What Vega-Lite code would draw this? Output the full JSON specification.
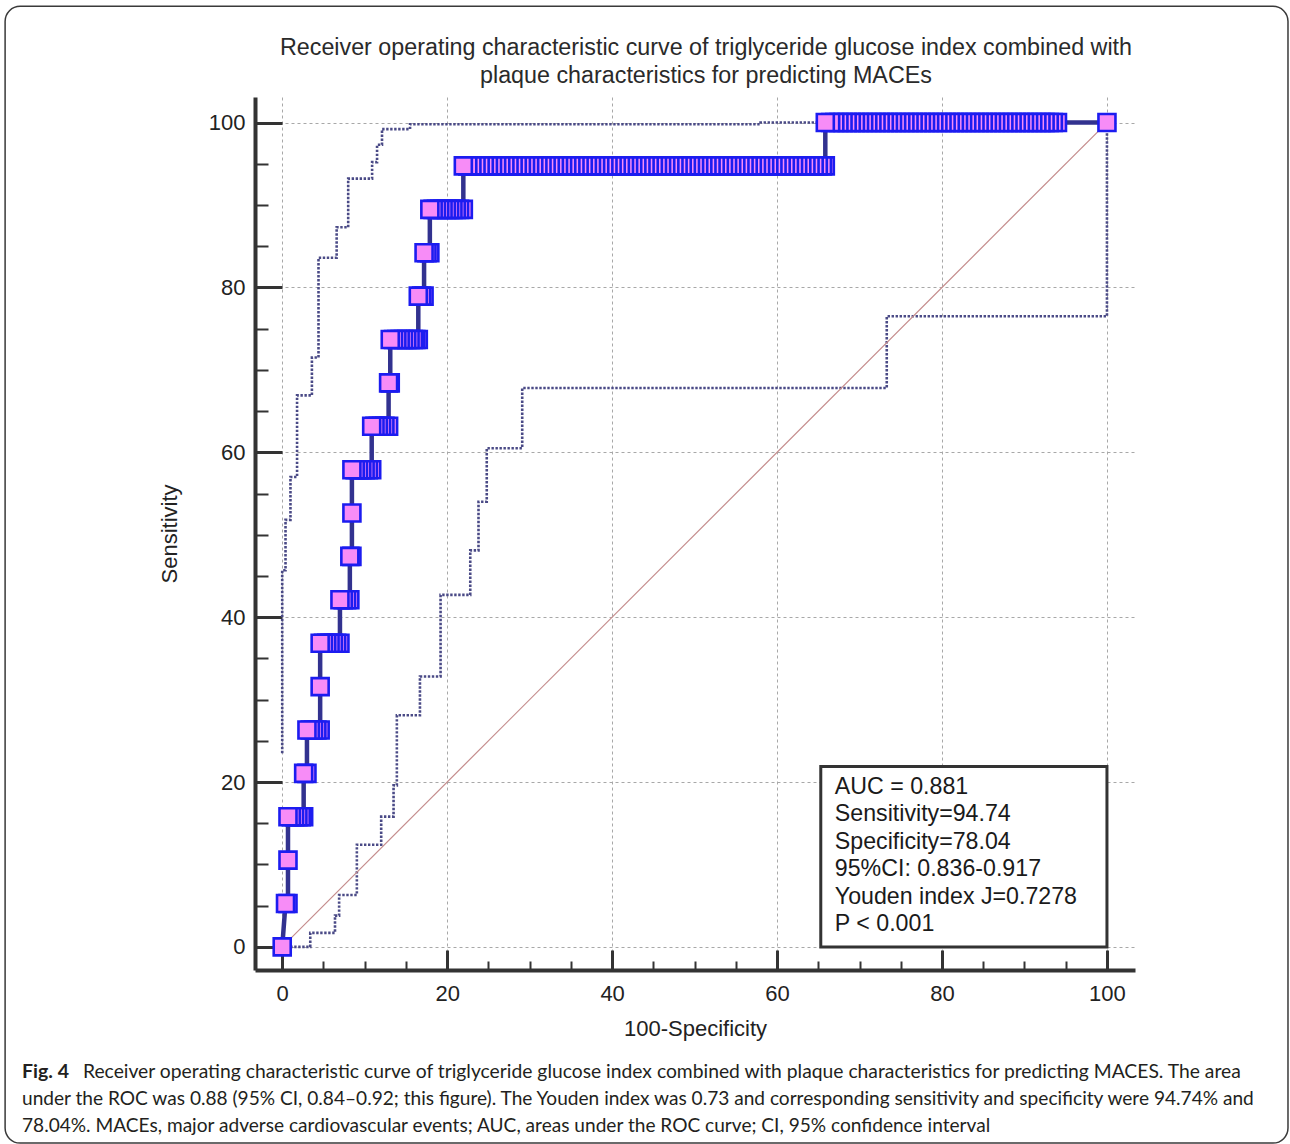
{
 "$schema": "https://vega.github.io/schema/vega-lite/v6.json",
 "width": 880,
 "height": 873,
 "autosize": "none",
 "padding": {"left": 255, "top": 97, "right": 155, "bottom": 174},
 "background": "white",
 "config": {"view": {"stroke": null}, "font": "Liberation Sans"},
 "datasets": {
  "roc": [
   {"x":0,"y":0},
   {"x":0.4,"y":5.26},{"x":0.7,"y":5.26},
   {"x":0.7,"y":10.53},
   {"x":0.7,"y":15.79},{"x":1.1,"y":15.79},{"x":1.5,"y":15.79},{"x":1.9,"y":15.79},{"x":2.3,"y":15.79},{"x":2.6,"y":15.79},
   {"x":2.6,"y":21.05},{"x":3.0,"y":21.05},
   {"x":3.0,"y":26.32},{"x":3.4,"y":26.32},{"x":3.8,"y":26.32},{"x":4.2,"y":26.32},{"x":4.6,"y":26.32},
   {"x":4.6,"y":31.58},
   {"x":4.6,"y":36.84},{"x":5.0,"y":36.84},{"x":5.4,"y":36.84},{"x":5.8,"y":36.84},{"x":6.2,"y":36.84},{"x":6.6,"y":36.84},{"x":7.0,"y":36.84},
   {"x":7.0,"y":42.11},{"x":7.4,"y":42.11},{"x":7.8,"y":42.11},{"x":8.2,"y":42.11},
   {"x":8.2,"y":47.37},{"x":8.45,"y":47.37},
   {"x":8.45,"y":52.63},
   {"x":8.45,"y":57.89},{"x":8.85,"y":57.89},{"x":9.25,"y":57.89},{"x":9.65,"y":57.89},{"x":10.05,"y":57.89},{"x":10.45,"y":57.89},{"x":10.85,"y":57.89},
   {"x":10.85,"y":63.16},{"x":11.25,"y":63.16},{"x":11.65,"y":63.16},{"x":12.05,"y":63.16},{"x":12.45,"y":63.16},{"x":12.9,"y":63.16},
   {"x":12.9,"y":68.42},{"x":13.1,"y":68.42},
   {"x":13.1,"y":73.68},{"x":13.5,"y":73.68},{"x":13.9,"y":73.68},{"x":14.3,"y":73.68},{"x":14.7,"y":73.68},{"x":15.1,"y":73.68},{"x":15.5,"y":73.68},{"x":15.9,"y":73.68},{"x":16.2,"y":73.68},{"x":16.5,"y":73.68},
   {"x":16.5,"y":78.95},{"x":16.9,"y":78.95},{"x":17.2,"y":78.95},
   {"x":17.2,"y":84.21},{"x":17.55,"y":84.21},{"x":17.9,"y":84.21},
   {"x":17.9,"y":89.47},{"x":18.3,"y":89.47},{"x":18.7,"y":89.47},{"x":19.1,"y":89.47},{"x":19.5,"y":89.47},{"x":19.9,"y":89.47},{"x":20.3,"y":89.47},{"x":20.7,"y":89.47},{"x":21.1,"y":89.47},{"x":21.5,"y":89.47},{"x":21.96,"y":89.47},
   {"x":21.96,"y":94.74},{"x":22.5,"y":94.74},{"x":23,"y":94.74},{"x":23.5,"y":94.74},{"x":24,"y":94.74},{"x":24.5,"y":94.74},{"x":25,"y":94.74},{"x":25.5,"y":94.74},{"x":26,"y":94.74},{"x":26.5,"y":94.74},
   {"x":27,"y":94.74},{"x":27.5,"y":94.74},{"x":28,"y":94.74},{"x":28.5,"y":94.74},{"x":29,"y":94.74},{"x":29.5,"y":94.74},{"x":30,"y":94.74},{"x":30.5,"y":94.74},{"x":31,"y":94.74},{"x":31.5,"y":94.74},
   {"x":32,"y":94.74},{"x":32.5,"y":94.74},{"x":33,"y":94.74},{"x":33.5,"y":94.74},{"x":34,"y":94.74},{"x":34.5,"y":94.74},{"x":35,"y":94.74},{"x":35.5,"y":94.74},{"x":36,"y":94.74},{"x":36.5,"y":94.74},
   {"x":37,"y":94.74},{"x":37.5,"y":94.74},{"x":38,"y":94.74},{"x":38.5,"y":94.74},{"x":39,"y":94.74},{"x":39.5,"y":94.74},{"x":40,"y":94.74},{"x":40.5,"y":94.74},{"x":41,"y":94.74},{"x":41.5,"y":94.74},
   {"x":42,"y":94.74},{"x":42.5,"y":94.74},{"x":43,"y":94.74},{"x":43.5,"y":94.74},{"x":44,"y":94.74},{"x":44.5,"y":94.74},{"x":45,"y":94.74},{"x":45.5,"y":94.74},{"x":46,"y":94.74},{"x":46.5,"y":94.74},
   {"x":47,"y":94.74},{"x":47.5,"y":94.74},{"x":48,"y":94.74},{"x":48.5,"y":94.74},{"x":49,"y":94.74},{"x":49.5,"y":94.74},{"x":50,"y":94.74},{"x":50.5,"y":94.74},{"x":51,"y":94.74},{"x":51.5,"y":94.74},
   {"x":52,"y":94.74},{"x":52.5,"y":94.74},{"x":53,"y":94.74},{"x":53.5,"y":94.74},{"x":54,"y":94.74},{"x":54.5,"y":94.74},{"x":55,"y":94.74},{"x":55.5,"y":94.74},{"x":56,"y":94.74},{"x":56.5,"y":94.74},
   {"x":57,"y":94.74},{"x":57.5,"y":94.74},{"x":58,"y":94.74},{"x":58.5,"y":94.74},{"x":59,"y":94.74},{"x":59.5,"y":94.74},{"x":60,"y":94.74},{"x":60.5,"y":94.74},{"x":61,"y":94.74},{"x":61.5,"y":94.74},
   {"x":62,"y":94.74},{"x":62.5,"y":94.74},{"x":63,"y":94.74},{"x":63.5,"y":94.74},{"x":64,"y":94.74},{"x":64.5,"y":94.74},{"x":65,"y":94.74},{"x":65.5,"y":94.74},{"x":65.85,"y":94.74},
   {"x":65.85,"y":100},{"x":66.5,"y":100},{"x":67,"y":100},{"x":67.5,"y":100},{"x":68,"y":100},{"x":68.5,"y":100},{"x":69,"y":100},{"x":69.5,"y":100},{"x":70,"y":100},{"x":70.5,"y":100},
   {"x":71,"y":100},{"x":71.5,"y":100},{"x":72,"y":100},{"x":72.5,"y":100},{"x":73,"y":100},{"x":73.5,"y":100},{"x":74,"y":100},{"x":74.5,"y":100},{"x":75,"y":100},{"x":75.5,"y":100},
   {"x":76,"y":100},{"x":76.5,"y":100},{"x":77,"y":100},{"x":77.5,"y":100},{"x":78,"y":100},{"x":78.5,"y":100},{"x":79,"y":100},{"x":79.5,"y":100},{"x":80,"y":100},{"x":80.5,"y":100},
   {"x":81,"y":100},{"x":81.5,"y":100},{"x":82,"y":100},{"x":82.5,"y":100},{"x":83,"y":100},{"x":83.5,"y":100},{"x":84,"y":100},{"x":84.5,"y":100},{"x":85,"y":100},{"x":85.5,"y":100},
   {"x":86,"y":100},{"x":86.5,"y":100},{"x":87,"y":100},{"x":87.5,"y":100},{"x":88,"y":100},{"x":88.5,"y":100},{"x":89,"y":100},{"x":89.5,"y":100},{"x":90,"y":100},{"x":90.5,"y":100},
   {"x":91,"y":100},{"x":91.5,"y":100},{"x":92,"y":100},{"x":92.5,"y":100},{"x":93,"y":100},{"x":93.5,"y":100},{"x":94,"y":100},
   {"x":100,"y":100}
  ],
  "ci": [
   {"band":"lower","x":0,"y":0},{"band":"lower","x":3.4,"y":0},{"band":"lower","x":3.4,"y":1.7},{"band":"lower","x":6.4,"y":1.7},{"band":"lower","x":6.4,"y":3.8},{"band":"lower","x":6.9,"y":3.8},{"band":"lower","x":6.9,"y":6.3},{"band":"lower","x":9.05,"y":6.3},{"band":"lower","x":9.05,"y":12.4},{"band":"lower","x":12.0,"y":12.4},{"band":"lower","x":12.0,"y":15.8},{"band":"lower","x":13.5,"y":15.8},{"band":"lower","x":13.5,"y":19.6},{"band":"lower","x":13.9,"y":19.6},{"band":"lower","x":13.9,"y":28.1},{"band":"lower","x":16.7,"y":28.1},{"band":"lower","x":16.7,"y":32.8},{"band":"lower","x":19.2,"y":32.8},{"band":"lower","x":19.2,"y":42.7},{"band":"lower","x":22.8,"y":42.7},{"band":"lower","x":22.8,"y":48.1},{"band":"lower","x":23.8,"y":48.1},{"band":"lower","x":23.8,"y":54.0},{"band":"lower","x":24.8,"y":54.0},{"band":"lower","x":24.8,"y":60.5},{"band":"lower","x":29.1,"y":60.5},{"band":"lower","x":29.1,"y":67.8},{"band":"lower","x":73.3,"y":67.8},{"band":"lower","x":73.3,"y":76.5},{"band":"lower","x":100,"y":76.5},{"band":"lower","x":100,"y":100},
   {"band":"upper","x":0,"y":23.5},{"band":"upper","x":0,"y":45.7},{"band":"upper","x":0.4,"y":45.7},{"band":"upper","x":0.4,"y":51.8},{"band":"upper","x":1.0,"y":51.8},{"band":"upper","x":1.0,"y":57.0},{"band":"upper","x":1.8,"y":57.0},{"band":"upper","x":1.8,"y":66.9},{"band":"upper","x":3.6,"y":66.9},{"band":"upper","x":3.6,"y":71.5},{"band":"upper","x":4.4,"y":71.5},{"band":"upper","x":4.4,"y":83.6},{"band":"upper","x":6.6,"y":83.6},{"band":"upper","x":6.6,"y":87.3},{"band":"upper","x":8.0,"y":87.3},{"band":"upper","x":8.0,"y":93.2},{"band":"upper","x":10.9,"y":93.2},{"band":"upper","x":10.9,"y":95.2},{"band":"upper","x":11.5,"y":95.2},{"band":"upper","x":11.5,"y":97.3},{"band":"upper","x":12.1,"y":97.3},{"band":"upper","x":12.1,"y":99.2},{"band":"upper","x":15.5,"y":99.2},{"band":"upper","x":15.5,"y":99.8},{"band":"upper","x":58,"y":99.8},{"band":"upper","x":58,"y":100},{"band":"upper","x":100,"y":100}
  ]
 },
 "layer": [
  {
   "data": {"name": "ci"},
   "mark": {"type": "line", "color": "#4a4a86", "strokeWidth": 2.6, "strokeDash": [2.4, 1.6]},
   "encoding": {
    "x": {
     "field": "x", "type": "quantitative", "title": "100-Specificity",
     "scale": {"domain": [-3.3, 103.4], "nice": false, "zero": false},
     "axis": {
      "title": "100-Specificity",
      "values": [0,5,10,15,20,25,30,35,40,45,50,55,60,65,70,75,80,85,90,95,100],
      "grid": true, "gridColor": "#a8a8a8", "gridDash": [3,3], "gridWidth": 1,
      "gridOpacity": {"condition": {"test": "datum.value % 20 === 0", "value": 1}, "value": 0},
      "domainColor": "#333333", "domainWidth": 4,
      "tickColor": "#333333",
      "tickSize": {"condition": {"test": "datum.value % 20 === 0", "value": -20}, "value": -9},
      "tickWidth": {"condition": {"test": "datum.value % 20 === 0", "value": 3}, "value": 2},
      "labelExpr": "datum.value % 20 === 0 ? datum.label : ''",
      "labelFont": "Liberation Sans", "labelFontSize": 22, "labelColor": "#222222",
      "labelPadding": 33, "labelOverlap": false, "labelFlush": false,
      "titleFont": "Liberation Sans", "titleFontSize": 22, "titleFontWeight": "normal", "titleColor": "#222222",
      "titlePadding": 3
     }
    },
    "y": {
     "field": "y", "type": "quantitative", "title": "Sensitivity",
     "scale": {"domain": [-2.8, 103.1], "nice": false, "zero": false},
     "axis": {
      "title": "Sensitivity",
      "values": [0,5,10,15,20,25,30,35,40,45,50,55,60,65,70,75,80,85,90,95,100],
      "grid": true, "gridColor": "#a8a8a8", "gridDash": [3,3], "gridWidth": 1,
      "gridOpacity": {"condition": {"test": "datum.value % 20 === 0", "value": 1}, "value": 0},
      "domainColor": "#333333", "domainWidth": 4,
      "tickColor": "#333333",
      "tickSize": {"condition": {"test": "datum.value % 20 === 0", "value": -27}, "value": -13},
      "tickWidth": {"condition": {"test": "datum.value % 20 === 0", "value": 3}, "value": 2},
      "labelExpr": "datum.value % 20 === 0 ? datum.label : ''",
      "labelFont": "Liberation Sans", "labelFontSize": 22, "labelColor": "#222222",
      "labelPadding": 37, "labelOverlap": false, "labelFlush": false,
      "titleFont": "Liberation Sans", "titleFontSize": 22, "titleFontWeight": "normal", "titleColor": "#222222",
      "titlePadding": 27
     }
    },
    "detail": {"field": "band"},
    "order": [{"field": "x"}, {"field": "y"}]
   }
  },
  {
   "data": {"values": [{"item": "frame"}]},
   "mark": {"type": "rect", "fill": "white", "fillOpacity": 0, "stroke": "#3a3a3a", "strokeWidth": 1.5, "cornerRadius": 15},
   "encoding": {
    "x": {"datum": -33.6, "type": "quantitative"},
    "x2": {"datum": 121.95},
    "y": {"datum": 114.1, "type": "quantitative"},
    "y2": {"datum": -23.8}
   }
  },
  {
   "data": {"values": [{"item": "reference"}]},
   "mark": {"type": "rule", "color": "#c48c8c", "strokeWidth": 1.2},
   "encoding": {
    "x": {"datum": 0, "type": "quantitative"},
    "y": {"datum": 0, "type": "quantitative"},
    "x2": {"datum": 100},
    "y2": {"datum": 100}
   }
  },
  {
   "data": {"name": "roc"},
   "mark": {"type": "line", "color": "#32328f", "strokeWidth": 4.5},
   "encoding": {
    "x": {"field": "x", "type": "quantitative", "title": "100-Specificity"},
    "y": {"field": "y", "type": "quantitative", "title": "Sensitivity"},
    "order": [{"field": "x"}, {"field": "y"}]
   }
  },
  {
   "data": {"name": "roc"},
   "mark": {"type": "point", "shape": "square", "size": 289, "filled": true, "fill": "#f78cf7", "stroke": "#1c1cf0", "strokeWidth": 2.6, "opacity": 1},
   "encoding": {
    "x": {"field": "x", "type": "quantitative", "title": "100-Specificity"},
    "y": {"field": "y", "type": "quantitative", "title": "Sensitivity"},
    "order": {"field": "x", "sort": "descending"}
   }
  },
  {
   "data": {"values": [{"item": "statsbox"}]},
   "mark": {"type": "rect", "fill": "white", "stroke": "#333333", "strokeWidth": 3},
   "encoding": {
    "x": {"datum": 65.3, "type": "quantitative"},
    "x2": {"datum": 100},
    "y": {"datum": 0, "type": "quantitative"},
    "y2": {"datum": 21.9}
   }
  },
  {
   "data": {"values": [{"lines": ["AUC = 0.881", "Sensitivity=94.74", "Specificity=78.04", "95%CI: 0.836-0.917", "Youden index J=0.7278", "P < 0.001"]}]},
   "mark": {"type": "text", "align": "left", "baseline": "alphabetic", "font": "Liberation Sans", "fontSize": 23.2, "lineHeight": 27.5, "color": "#1a1a1a"},
   "encoding": {
    "x": {"datum": 67.0, "type": "quantitative"},
    "y": {"datum": 18.55, "type": "quantitative"},
    "text": {"field": "lines"}
   }
  },
  {
   "data": {"values": [{"lines": ["Receiver operating characteristic curve of triglyceride glucose index combined with", "plaque characteristics for predicting MACEs"]}]},
   "mark": {"type": "text", "align": "center", "baseline": "alphabetic", "font": "Liberation Sans", "fontSize": 23.3, "lineHeight": 28, "color": "#2a2a2a"},
   "encoding": {
    "x": {"datum": 51.38, "type": "quantitative"},
    "y": {"datum": 108.2, "type": "quantitative"},
    "text": {"field": "lines"}
   }
  },
  {
   "data": {"values": [{"t": "Fig. 4"}]},
   "mark": {"type": "text", "align": "left", "baseline": "alphabetic", "font": "Lato", "fontWeight": "bold", "fontSize": 19.5, "color": "#231f20"},
   "encoding": {
    "x": {"datum": -31.55, "type": "quantitative"},
    "y": {"datum": -15.9, "type": "quantitative"},
    "text": {"field": "t"}
   }
  },
  {
   "data": {"values": [{"t": "Receiver operating characteristic curve of triglyceride glucose index combined with plaque characteristics for predicting MACES. The area"}]},
   "mark": {"type": "text", "align": "left", "baseline": "alphabetic", "font": "Lato", "fontSize": 19.3, "color": "#231f20"},
   "encoding": {
    "x": {"datum": -24.16, "type": "quantitative"},
    "y": {"datum": -15.9, "type": "quantitative"},
    "text": {"field": "t"}
   }
  },
  {
   "data": {"values": [{"t": "under the ROC was 0.88 (95% CI, 0.84–0.92; this figure). The Youden index was 0.73 and corresponding sensitivity and specificity were 94.74% and"}]},
   "mark": {"type": "text", "align": "left", "baseline": "alphabetic", "font": "Lato", "fontSize": 19.1, "color": "#231f20"},
   "encoding": {
    "x": {"datum": -31.55, "type": "quantitative"},
    "y": {"datum": -19.18, "type": "quantitative"},
    "text": {"field": "t"}
   }
  },
  {
   "data": {"values": [{"t": "78.04%. MACEs, major adverse cardiovascular events; AUC, areas under the ROC curve; CI, 95% confidence interval"}]},
   "mark": {"type": "text", "align": "left", "baseline": "alphabetic", "font": "Lato", "fontSize": 19.1, "color": "#231f20"},
   "encoding": {
    "x": {"datum": -31.55, "type": "quantitative"},
    "y": {"datum": -22.45, "type": "quantitative"},
    "text": {"field": "t"}
   }
  }
 ]
}
